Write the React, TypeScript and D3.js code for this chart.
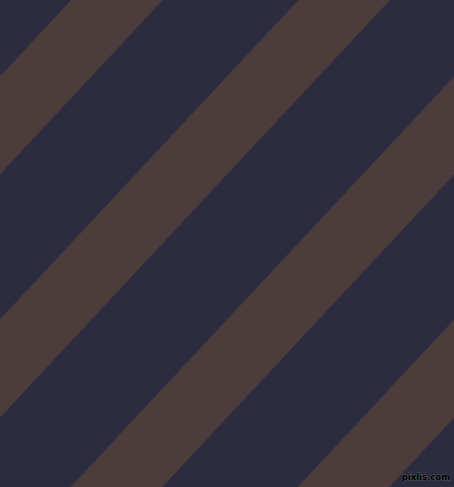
import { useEffect, useRef } from 'react';
import * as d3 from 'd3';

// Pattern description: background band colour, stripe colour, stripe order
const stripeIndex = [-1, 0, 1, 2, 3, 4];
const colors = ['#2b2c3f', '#4c3c3b'];
const watermark = ['pixlis.com'];

const App = () => {
  const svgRef = useRef<SVGSVGElement>(null);

  useEffect(() => {
    if (!svgRef.current) return;
    document.body.style.margin = '0';

    const width = 454;
    const height = 487;
    const svg = d3.select(svgRef.current);
    svg.selectAll('*').remove();
    svg.attr('width', width).attr('height', height);

    svg.append('rect')
      .attr('width', width)
      .attr('height', height)
      .attr('fill', colors[0]);

    // perpendicular distance across the stripes
    const offset = d3.scaleLinear().domain([0, 1]).range([52, 218]);
    const band = 67;
    const angle = 43.05;

    const g = svg.append('g').attr('transform', `rotate(${angle})`);
    g.selectAll('rect.stripe')
      .data(stripeIndex)
      .join('rect')
      .attr('class', 'stripe')
      .attr('x', d => offset(d))
      .attr('y', -1200)
      .attr('width', band)
      .attr('height', 2400)
      .attr('fill', colors[1]);

    svg.selectAll('text.wm')
      .data(watermark)
      .join('text')
      .attr('class', 'wm')
      .attr('x', 450)
      .attr('y', 480)
      .attr('text-anchor', 'end')
      .attr('font-family', 'DejaVu Sans, sans-serif')
      .attr('font-weight', 'bold')
      .attr('font-size', 8.5)
      .attr('fill', '#000')
      .attr('stroke', 'rgba(120,120,120,0.6)')
      .attr('stroke-width', 1)
      .attr('paint-order', 'stroke')
      .text(d => d);
  }, []);

  return (
    <div style={{ position: 'absolute', left: 0, top: 0 }}>
      <svg ref={svgRef} style={{ display: 'block' }}></svg>
    </div>
  );
};

export default App;
